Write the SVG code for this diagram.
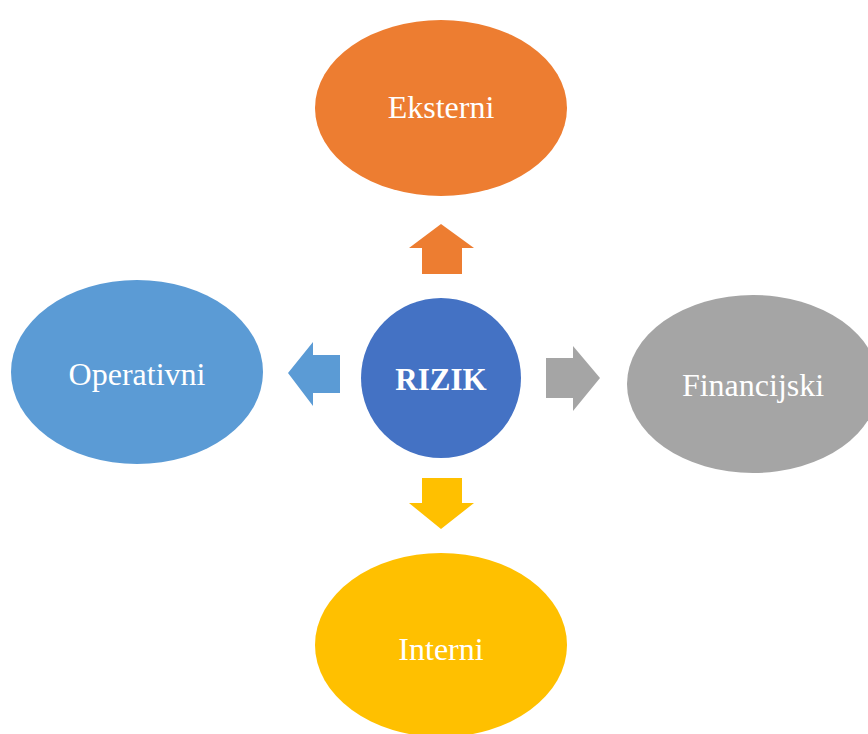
<svg xmlns="http://www.w3.org/2000/svg" width="868" height="734" viewBox="0 0 868 734">
<style>
.lbl{font-family:"Liberation Serif","Times New Roman",serif;font-size:32px;fill:#fff;text-anchor:middle;dominant-baseline:central}
.b{font-weight:bold;font-size:31px}
</style>
<rect width="868" height="734" fill="#fff"/>
<g id="connectors">
<polygon fill="#ED7D31" points="441,224 474,248 462,248 462,274 422,274 422,248 409,248"/>
<polygon fill="#5B9BD5" points="288,373 313,342 313,355 340,355 340,393 313,393 313,406"/>
<polygon fill="#A5A5A5" points="600,378 573,346 573,358 546,358 546,398 573,398 573,411"/>
<polygon fill="#FFC000" points="441,529 474,503 462,503 462,478 422,478 422,503 409,503"/>
</g>
<g id="eksterni"><ellipse cx="441" cy="108" rx="126" ry="88" fill="#ED7D31"/><text class="lbl" x="441" y="107">Eksterni</text></g>
<g id="operativni"><ellipse cx="137" cy="372" rx="126" ry="92" fill="#5B9BD5"/><text class="lbl" x="137" y="374">Operativni</text></g>
<g id="financijski"><ellipse cx="753" cy="384" rx="126" ry="89" fill="#A5A5A5"/><text class="lbl" x="753" y="385">Financijski</text></g>
<g id="interni"><ellipse cx="441" cy="645" rx="126" ry="92" fill="#FFC000"/><text class="lbl" x="441" y="649">Interni</text></g>
<g id="rizik"><circle cx="441" cy="378" r="80" fill="#4472C4"/><text class="lbl b" x="441" y="379">RIZIK</text></g>
</svg>
